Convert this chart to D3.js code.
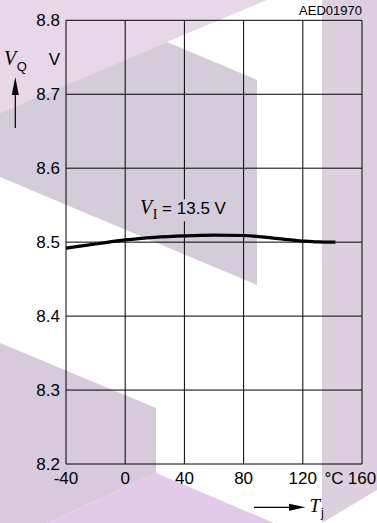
<!DOCTYPE html>
<html>
<head>
<meta charset="utf-8">
<script src="https://cdn.jsdelivr.net/npm/d3@7"></script>
<style>
  html, body { margin: 0; padding: 0; background: #fff; }
  svg { display: block; }
</style>
</head>
<body>
<svg id="chart" width="377" height="523"></svg>
<script>
// ---- data ----
const xTickValues = [-40, 0, 40, 80, 120, 160];
const xTickLabels = ["-40", "0", "40", "80", "120", "160"];
const yTickValues = [8.2, 8.3, 8.4, 8.5, 8.6, 8.7, 8.8];
const yTickLabels = ["8.2", "8.3", "8.4", "8.5", "8.6", "8.7", "8.8"];
const tempC = [-40, -20, 0, 20, 40, 60, 80, 100, 120, 130, 142];
const vOut  = [8.492, 8.4975, 8.503, 8.5065, 8.5085, 8.5095, 8.509, 8.5055, 8.5015, 8.5003, 8.500];
const seriesLabel = { main: "V", sub: "I", rest: " = 13.5 V" };
const docCode = "AED01970";

(function () {
// ---- layout ----
const svg = d3.select("#chart");
const pL = 66, pR = 362, pT = 20.3, pB = 464;
const x = d3.scaleLinear().domain([-40, 160]).range([pL, pR]);
const y = d3.scaleLinear().domain([8.2, 8.8]).range([pB, pT]);
const sans = "'Liberation Sans', Arial, Helvetica, sans-serif";
const serif = "'Liberation Serif', 'Times New Roman', serif";

// ---- decorative background (watermark shapes) ----
const decor = [
  { fill: "#e6d8e7", pts: [[0,0],[267,0],[167,42],[0,113]] },
  { fill: "#d4ccd9", pts: [[0,113],[167,42],[257,80],[257,285],[0,177]] },
  { fill: "#ddd0de", pts: [[322,0],[377,0],[377,490],[322,523]] },
  { fill: "#d6cadb", pts: [[0,343],[156,408],[156,473],[47,523],[0,523]] },
  { fill: "#e3caea", pts: [[47,523],[156,473],[274,523]] }
];
svg.append("g").selectAll("polygon").data(decor).join("polygon")
  .attr("points", d => d.pts.map(p => p.join(",")).join(" "))
  .attr("fill", d => d.fill);

const grid = svg.append("g");

// ---- annotation label (measured first to break gridline) ----
const ann = svg.append("text")
  .attr("x", 140).attr("y", 214.3)
  .attr("font-family", serif).attr("font-size", 20)
  .attr("fill", "#000");
ann.append("tspan").attr("font-style", "italic").text(seriesLabel.main);
ann.append("tspan").attr("font-size", 14).attr("dy", 5).attr("dx", 0.5).text(seriesLabel.sub);
ann.append("tspan").attr("font-family", sans)
  .attr("font-size", 17).attr("dy", -5).text(seriesLabel.rest);
const bb = ann.node().getBBox();

// ---- grid ----
grid.selectAll("line.h").data(yTickValues).join("line")
  .attr("x1", pL).attr("x2", pR)
  .attr("y1", d => y(d)).attr("y2", d => y(d))
  .attr("stroke", "#000").attr("stroke-width", 1);
const vSegs = [];
xTickValues.forEach(v => {
  const px = x(v);
  if (px > bb.x && px < bb.x + bb.width) {
    vSegs.push({ px, y1: pT, y2: bb.y + 3 });
    vSegs.push({ px, y1: bb.y + bb.height - 1, y2: pB });
  } else {
    vSegs.push({ px, y1: pT, y2: pB });
  }
});
grid.selectAll("line.v").data(vSegs).join("line")
  .attr("x1", d => d.px).attr("x2", d => d.px)
  .attr("y1", d => d.y1).attr("y2", d => d.y2)
  .attr("stroke", "#000").attr("stroke-width", 1);

// ---- curve ----
const pts = tempC.map((t, i) => [t, vOut[i]]);
svg.append("path")
  .datum(pts)
  .attr("d", d3.line().x(d => x(d[0])).y(d => y(d[1])).curve(d3.curveMonotoneX))
  .attr("fill", "none").attr("stroke", "#000").attr("stroke-width", 3.2);

// ---- tick labels ----
svg.append("g").selectAll("text").data(yTickValues).join("text")
  .attr("x", 60).attr("y", d => y(d))
  .attr("dy", "0.36em")
  .attr("text-anchor", "end")
  .attr("font-family", sans).attr("font-size", 17).attr("fill", "#000")
  .text((d, i) => yTickLabels[i]);

svg.append("g").selectAll("text").data(xTickValues).join("text")
  .attr("x", d => x(d)).attr("y", 484)
  .attr("text-anchor", "middle")
  .attr("font-family", sans).attr("font-size", 17).attr("fill", "#000")
  .text((d, i) => xTickLabels[i]);

// units
svg.append("text").attr("x", 334).attr("y", 484).attr("text-anchor", "middle")
  .attr("font-family", sans).attr("font-size", 17).attr("fill", "#000").text("°C");
svg.append("text").attr("x", 60).attr("y", 65).attr("text-anchor", "end")
  .attr("font-family", sans).attr("font-size", 17).attr("fill", "#000").text("V");

// doc code
svg.append("text").attr("x", 362).attr("y", 15).attr("text-anchor", "end")
  .attr("font-family", sans).attr("font-size", 13).attr("fill", "#000").text(docCode);

// ---- axis titles with arrows ----
const yt = svg.append("text").attr("x", 4).attr("y", 65)
  .attr("font-family", serif).attr("font-size", 20).attr("font-style", "italic").attr("fill", "#000");
yt.append("tspan").text("V");
yt.append("tspan").attr("font-family", sans).attr("font-style", "normal")
  .attr("font-size", 13).attr("dy", 6).attr("dx", 0.5).text("Q");

svg.append("line").attr("x1", 15.3).attr("x2", 15.3).attr("y1", 128).attr("y2", 92)
  .attr("stroke", "#000").attr("stroke-width", 1.2);
svg.append("polygon").attr("points", "15.3,77 11.8,95 18.8,95").attr("fill", "#000");

svg.append("line").attr("x1", 254).attr("x2", 292).attr("y1", 507.3).attr("y2", 507.3)
  .attr("stroke", "#000").attr("stroke-width", 1.2);
svg.append("polygon").attr("points", "305.5,507.3 289,503.8 289,510.8").attr("fill", "#000");

const xt = svg.append("text").attr("x", 309.5).attr("y", 511.5)
  .attr("font-family", serif).attr("font-size", 19).attr("font-style", "italic").attr("fill", "#000");
xt.append("tspan").text("T");
xt.append("tspan").attr("font-family", sans).attr("font-style", "normal")
  .attr("font-size", 12).attr("dy", 5).attr("dx", 1).text("j");
})();
</script>
</body>
</html>
